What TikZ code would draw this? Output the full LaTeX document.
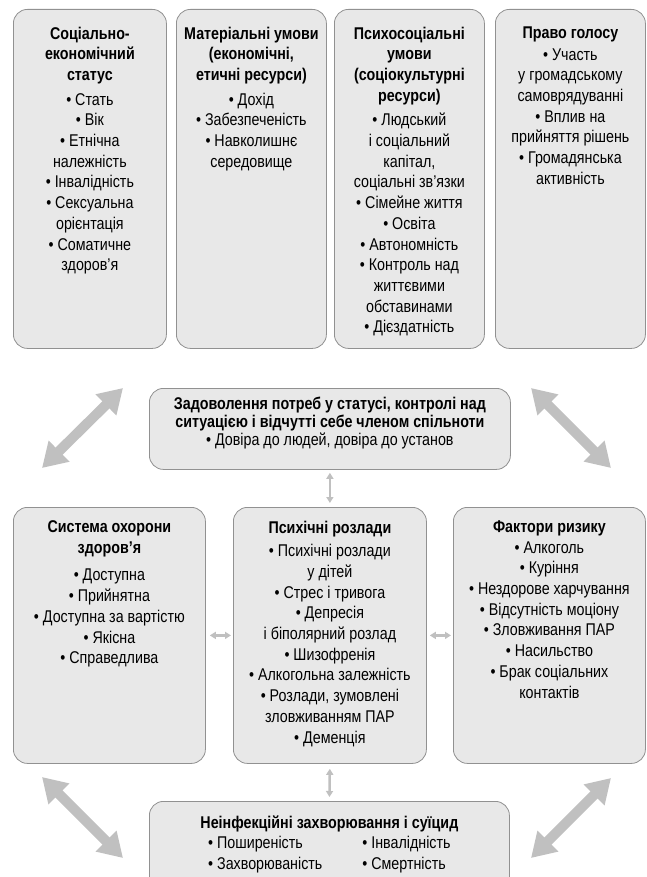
\documentclass[tikz,border=0pt]{standalone}
\usepackage{fontspec}
\setmainfont{Liberation Sans}[FakeStretch=0.84]
\usepackage{tikz}
\usetikzlibrary{positioning,arrows.meta}

\definecolor{panelfill}{RGB}{232,232,232}
\definecolor{panelline}{RGB}{145,145,145}
\definecolor{arrowgray}{RGB}{192,192,192}

\tikzset{
  panel/.style={draw=panelline, fill=panelfill, line width=0.8pt, rounded corners=14pt, anchor=north west, inner sep=0pt},
  paneltext/.style={align=center, inner sep=0pt, font=\fontsize{17}{20.7}\selectfont},
  bigarrow/.style={draw=arrowgray, line width=10pt, line cap=butt, {Triangle[width=28pt,length=24pt]}-{Triangle[width=28pt,length=24pt]}},
  smallarrow/.style={draw=arrowgray, line width=2.5pt, line cap=butt, {Triangle[width=7pt,length=6pt]}-{Triangle[width=7pt,length=6pt]}},
}

\begin{document}
\begin{tikzpicture}[x=1pt, y=-1pt, line join=round, line cap=round]
      \clip (0,0) rectangle (646,877);
      \def\toph{339}
      \def\lowh{256}

      % top row
      \node[panel, minimum width=153pt, minimum height=\toph pt] (status) at (13,9) {};
      \node[panel, minimum width=150pt, minimum height=\toph pt] (material) at (176,9) {};
      \node[panel, minimum width=150pt, minimum height=\toph pt] (psycho) at (334,9) {};
      \node[panel, minimum width=150pt, minimum height=\toph pt] (voice) at (495,9) {};

      \node[paneltext, below=17.5pt of status.north] (statustext) {\textbf{Соціально-}\\\textbf{економічний}\\\textbf{статус}\\[4pt]
        • Стать\\• Вік\\• Етнічна\\належність\\• Інвалідність\\• Сексуальна\\орієнтація\\• Соматичне\\здоров’я};
      \node[paneltext, below=17.5pt of material.north] (materialtext) {\textbf{Матеріальні умови}\\\textbf{(економічні,}\\\textbf{етичні ресурси)}\\[4pt]
        • Дохід\\• Забезпеченість\\• Навколишнє\\середовище};
      \node[paneltext, below=17.5pt of psycho.north] (psychotext) {\textbf{Психосоціальні}\\\textbf{умови}\\\textbf{(соціокультурні}\\\textbf{ресурси)}\\[4pt]
        • Людський\\і соціальний\\капітал,\\соціальні зв’язки\\• Сімейне життя\\• Освіта\\• Автономність\\• Контроль над\\життєвими\\обставинами\\• Дієздатність};
      \node[paneltext, below=17.5pt of voice.north] (voicetext) {\textbf{Право голосу}\\[1pt]
        • Участь\\у громадському\\самоврядуванні\\• Вплив на\\прийняття рішень\\• Громадянська\\активність};

      % middle
      \node[panel, minimum width=361pt, minimum height=81pt] (need) at (149,388) {};
      \node[paneltext, font=\fontsize{17}{18.3}\selectfont, below=8.5pt of need.north] (needtext)
        {\textbf{Задоволення потреб у статусі, контролі над}\\\textbf{ситуацією і відчутті себе членом спільноти}\\• Довіра до людей, довіра до установ};

      % lower row
      \node[panel, minimum width=192pt, minimum height=\lowh pt] (care) at (13,507) {};
      \node[panel, minimum width=193pt, minimum height=\lowh pt] (mental) at (233,507) {};
      \node[panel, minimum width=192pt, minimum height=\lowh pt] (risk) at (453,507) {};

      \node[paneltext, below=13.5pt of care.north] (caretext) {\textbf{Система охорони}\\\textbf{здоров’я}\\[7pt]
        • Доступна\\• Прийнятна\\• Доступна за вартістю\\• Якісна\\• Справедлива};
      \node[paneltext, below=13.5pt of mental.north] (mentaltext) {\textbf{Психічні розлади}\\[3pt]
        • Психічні розлади\\у дітей\\• Стрес і тривога\\• Депресія\\і біполярний розлад\\• Шизофренія\\• Алкогольна залежність\\• Розлади, зумовлені\\зловживанням ПАР\\• Деменція};
      \node[paneltext, below=13.5pt of risk.north] (risktext) {\textbf{Фактори ризику}\\
        • Алкоголь\\• Куріння\\• Нездорове харчування\\• Відсутність моціону\\• Зловживання ПАР\\• Насильство\\• Брак соціальних\\контактів};

      % bottom
      \node[panel, minimum width=360pt, minimum height=90pt] (ncd) at (149,801) {};
      \node[paneltext, below=14.5pt of ncd.north] (ncdtext) {\textbf{Неінфекційні захворювання і суїцид}\\[1pt]
        \begin{tabular}{@{}l@{\hspace{40pt}}l@{}}
          • Поширеність & • Інвалідність\\
          • Захворюваність & • Смертність
        \end{tabular}};

      % arrows
      \coordinate (ula) at (42,468);
      \coordinate (ulb) at (123,388);
      \coordinate (ura) at (531,388);
      \coordinate (urb) at (611,468);
      \coordinate (lla) at (42,777);
      \coordinate (llb) at (123,858);
      \coordinate (lra) at (611,778);
      \coordinate (lrb) at (531,858);
      \draw[bigarrow] (ula) -- (ulb);
      \draw[bigarrow] (ura) -- (urb);
      \draw[bigarrow] (lla) -- (llb);
      \draw[bigarrow] (lra) -- (lrb);

      \draw[smallarrow, shorten <=3pt, shorten >=4pt] (need.south) -- (mental.north);
      \draw[smallarrow, shorten <=5pt, shorten >=4pt] (mental.south) -- (ncd.north);
      \draw[smallarrow, shorten <=4pt, shorten >=2pt] (care.east) -- (mental.west);
      \draw[smallarrow, shorten <=3pt, shorten >=2pt] (mental.east) -- (risk.west);

    \end{tikzpicture}
\end{document}
